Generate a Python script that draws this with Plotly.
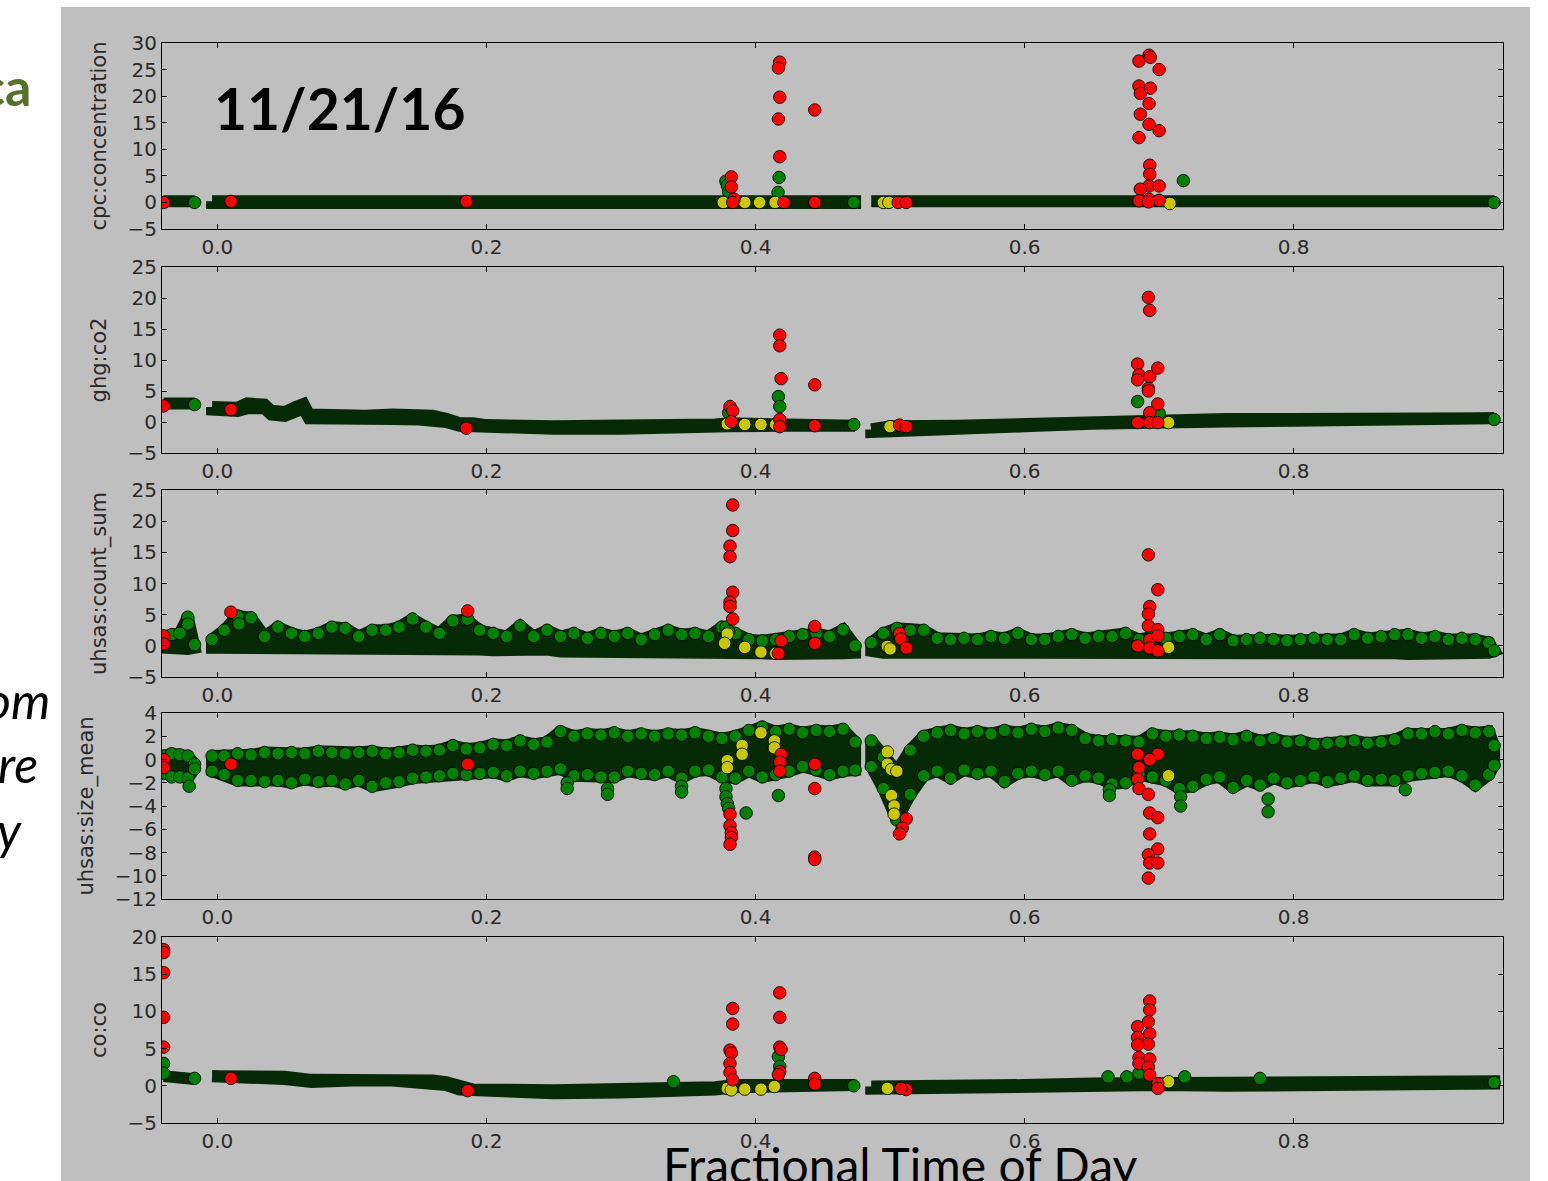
import plotly.graph_objects as go

W, H = 1548, 1181

# ---------------- data ----------------
x_tick_vals = [0.0, 0.2, 0.4, 0.6, 0.8]
x_tick_text = ["0.0", "0.2", "0.4", "0.6", "0.8"]
panel_titles = ["cpc:concentration", "ghg:co2", "uhsas:count_sum", "uhsas:size_mean", "co:co"]
y_ticks_cpc = [-5, 0, 5, 10, 15, 20, 25, 30]
y_ticks_co2 = [-5, 0, 5, 10, 15, 20, 25]
y_ticks_count = [-5, 0, 5, 10, 15, 20, 25]
y_ticks_size = [-12, -10, -8, -6, -4, -2, 0, 2, 4]
y_ticks_co = [-5, 0, 5, 10, 15, 20]

# dense knots shared by the two noisy uhsas panels (None = data gap)
xa = [-0.040, -0.034, -0.028, -0.022, -0.017]
xb = [-0.004, 0.005, 0.015, 0.025, 0.035, 0.045, 0.055, 0.065, 0.075, 0.085,
      0.095, 0.105, 0.115, 0.125, 0.135, 0.145, 0.155, 0.165, 0.175, 0.185,
      0.195, 0.205, 0.215, 0.225, 0.235, 0.245, 0.255, 0.265, 0.275, 0.285,
      0.295, 0.305, 0.315, 0.325, 0.335, 0.345, 0.355, 0.365, 0.375, 0.385,
      0.395, 0.405, 0.415, 0.425, 0.435, 0.445, 0.455, 0.465, 0.474]
xc = [0.486, 0.495, 0.505, 0.515, 0.525, 0.535, 0.545, 0.555, 0.565, 0.575,
      0.585, 0.595, 0.605, 0.615, 0.625, 0.635, 0.645, 0.655, 0.665, 0.675,
      0.685, 0.695, 0.705, 0.715, 0.725, 0.735, 0.745, 0.755, 0.765, 0.775,
      0.785, 0.795, 0.805, 0.815, 0.825, 0.835, 0.845, 0.855, 0.865, 0.875,
      0.885, 0.895, 0.905, 0.915, 0.925, 0.935, 0.945, 0.949]
dense_x = xa + [None] + xb + [None] + xc

# ---- cpc:concentration ----
cpc_band_x = [-0.040, -0.017, None, -0.004, 0.1, 0.2, 0.3, 0.4, 0.474, None, 0.486, 0.6, 0.7, 0.8, 0.949]
cpc_band_lo = [-0.1, -0.1, None, -0.1, -0.1, -0.1, -0.1, -0.1, -0.1, None, -0.1, -0.1, -0.1, -0.1, -0.1]
cpc_band_hi = [0.2, 0.2, None, 0.2, 0.3, 0.2, 0.2, 0.3, 0.2, None, 0.2, 0.2, 0.3, 0.2, 0.2]
cpc_green_x = [-0.017, 0.378, 0.379, 0.380, 0.4175, 0.4167, 0.473, 0.718, 0.949]
cpc_green_y = [0.0, 4.0, 3.2, 2.0, 4.7, 1.9, 0.0, 4.1, 0.0]
cpc_yellow_x = [0.376, 0.392, 0.403, 0.4145, 0.495, 0.499, 0.708]
cpc_yellow_y = [0.0, 0.0, 0.0, 0.0, 0.0, 0.0, -0.2]
cpc_red_x = [-0.040, 0.010, 0.185, 0.382, 0.382, 0.384, 0.383, 0.418, 0.417, 0.418, 0.417,
             0.418, 0.421, 0.444, 0.444, 0.506, 0.512, 0.685, 0.6925, 0.6935, 0.700, 0.685,
             0.686, 0.6935, 0.6925, 0.686, 0.6925, 0.700, 0.685, 0.693, 0.693, 0.6925, 0.700,
             0.686, 0.685, 0.6925, 0.700, 0.692]
cpc_red_y = [0.0, 0.2, 0.2, 4.8, 2.9, 0.6, 0.0, 26.4, 25.3, 19.8, 15.7,
             8.6, 0.0, 17.4, 0.0, 0.0, 0.0, 26.6, 27.7, 27.3, 25.0, 21.9,
             20.5, 21.5, 18.6, 16.6, 14.7, 13.5, 12.2, 7.0, 5.3, 3.1, 3.1,
             2.5, 0.3, 0.6, 0.4, 0.1]

# ---- ghg:co2 ----
co2_band_x = [-0.040, -0.017, None,
              -0.004, 0.015, 0.022, 0.035, 0.040, 0.050, 0.058, 0.064, 0.068, 0.090, 0.110,
              0.130, 0.150, 0.160, 0.170, 0.180, 0.190, 0.200, 0.250, 0.300, 0.350, 0.370,
              0.380, 0.420, 0.474, None,
              0.486, 0.500, 0.550, 0.600, 0.650, 0.700, 0.750, 0.800, 0.850, 0.900, 0.949]
co2_band_lo = [2.6, 2.6, None,
               2.0, 1.8, 2.2, 2.2, 1.2, 1.0, 1.8, 2.2, 0.6, 0.4, 0.5,
               0.5, 0.4, 0.3, 0.0, -0.6, -0.9, -1.0, -1.1, -1.1, -1.0, -0.8,
               -0.7, -0.6, -0.6, None,
               -1.6, -1.2, -1.0, -0.7, -0.3, 0.0, 0.1, 0.2, 0.2, 0.2, 0.2]
co2_band_hi = [3.0, 3.0, None,
               2.4, 2.3, 3.0, 2.8, 1.8, 1.6, 2.4, 2.9, 1.2, 0.9, 1.0,
               1.2, 1.3, 1.0, 0.5, -0.2, -0.2, -0.5, -0.7, -0.7, -0.6, -0.4,
               -0.2, -0.3, -0.3, None,
               -1.2, -0.7, -0.6, -0.3, 0.1, 0.4, 0.5, 0.5, 0.5, 0.6, 0.6]
co2_green_x = [-0.017, 0.380, 0.417, 0.418, 0.473, 0.684, 0.700, 0.949]
co2_green_y = [2.8, 1.5, 4.1, 2.5, -0.4, 3.3, 1.4, 0.4]
co2_yellow_x = [0.379, 0.392, 0.404, 0.415, 0.500, 0.707]
co2_yellow_y = [-0.3, -0.4, -0.4, -0.4, -0.75, -0.1]
co2_red_x = [-0.040, 0.010, 0.185, 0.381, 0.383, 0.382, 0.418, 0.418, 0.419, 0.418, 0.418,
             0.444, 0.444, 0.507, 0.512, 0.692, 0.693, 0.684, 0.685, 0.684, 0.693, 0.699,
             0.692, 0.692, 0.699, 0.693, 0.684, 0.693, 0.699]
co2_red_y = [2.6, 2.0, -1.0, 2.5, 1.8, 0.05, 14.0, 12.3, 7.0, 0.4, -0.75,
             6.0, -0.6, -0.5, -0.75, 20.1, 18.0, 9.35, 7.6, 6.8, 7.3, 8.7,
             5.4, 5.0, 2.9, 1.5, -0.1, -0.1, -0.1]

# ---- uhsas:count_sum ----
count_band_x = dense_x
count_band_lo = ([-0.3, -0.5, -0.5, -0.5, -0.3] + [None] +
                 [-0.3, -0.4, -0.5, -0.4, -0.4, -0.5, -0.4, -0.4, -0.5, -0.4,
                  -0.4, -0.5, -0.4, -0.4, -0.5, -0.4, -0.6, -0.6, -0.7, -0.6,
                  -0.6, -0.7, -0.6, -0.6, -0.7, -0.6, -0.9, -0.9, -1.0, -0.9,
                  -0.9, -1.2, -1.2, -1.1, -1.2, -1.2, -1.3, -1.2, -1.2, -1.1,
                  -1.2, -1.2, -1.3, -1.2, -1.2, -1.2, -1.3, -1.2, -1.1] + [None] +
                 [-0.8, -1.1, -1.2, -1.2, -1.3, -1.2, -1.2, -1.1, -1.2, -1.2,
                  -1.3, -1.2, -1.2, -1.1, -1.2, -1.2, -1.3, -1.2, -1.2, -1.1,
                  -1.2, -1.2, -1.3, -1.2, -1.2, -1.1, -1.2, -1.2, -1.3, -1.2,
                  -1.2, -1.1, -1.2, -1.2, -1.3, -1.2, -1.2, -1.1, -1.2, -1.2,
                  -1.3, -1.2, -1.2, -1.1, -1.2, -1.2, -1.1, -0.8])
count_band_hi = ([1.5, 1.8, 2.0, 4.6, 0.2] + [None] +
                 [1.0, 2.5, 4.8, 4.5, 1.5, 3.0, 2.0, 1.5, 2.0, 3.0,
                  2.8, 1.5, 2.5, 2.5, 3.0, 4.3, 3.0, 2.0, 4.0, 4.2,
                  2.5, 2.0, 1.5, 3.2, 1.5, 2.5, 1.5, 2.0, 1.2, 2.0,
                  1.5, 2.0, 1.0, 1.8, 2.5, 1.8, 2.0, 1.5, 3.0, 2.0,
                  1.0, 0.8, 1.0, 1.5, 1.8, 2.0, 1.5, 2.6, 0.0] + [None] +
                 [0.5, 2.0, 2.8, 2.5, 2.5, 1.2, 1.0, 1.2, 1.0, 1.5,
                  1.2, 2.0, 1.0, 1.0, 1.5, 1.8, 1.2, 1.5, 1.5, 2.0,
                  1.0, 1.5, 1.2, 1.5, 1.8, 1.0, 1.8, 0.8, 1.0, 1.2,
                  1.0, 0.8, 1.0, 1.2, 1.0, 1.0, 1.8, 1.2, 1.5, 1.8,
                  1.8, 1.2, 1.5, 1.0, 1.2, 1.0, 0.5, -0.8])
count_green_x = [-0.022, 0.016, 0.186, 0.378, 0.380]
count_green_y = [3.5, 3.5, 4.3, 3.0, 2.3]
count_yellow_x = [0.379, 0.377, 0.392, 0.404, 0.415, 0.498, 0.500, 0.707]
count_yellow_y = [1.9, 0.4, -0.25, -1.0, -1.2, -0.1, -0.5, -0.25]
count_red_x = [-0.040, -0.040, 0.010, 0.186, 0.383, 0.383, 0.381, 0.381, 0.383, 0.381,
               0.381, 0.383, 0.419, 0.417, 0.444, 0.444, 0.507, 0.508, 0.512, 0.692,
               0.699, 0.693, 0.692, 0.692, 0.699, 0.693, 0.699, 0.684, 0.693, 0.699]
count_red_y = [1.6, 0.3, 5.4, 5.6, 22.6, 18.5, 16.0, 14.3, 8.6, 7.0,
               6.3, 4.3, 0.8, -1.2, 3.1, 0.4, 2.0, 1.1, -0.35, 14.6,
               9.0, 6.3, 5.1, 3.2, 2.6, 1.0, 1.6, 0.0, -0.35, -0.8]

# ---- uhsas:size_mean ----
size_band_x = dense_x
size_band_lo = ([-1.2, -1.5, -1.5, -1.6, -0.8] + [None] +
                [-1.0, -1.3, -1.8, -1.8, -1.9, -1.8, -2.0, -1.7, -1.9, -1.8,
                 -2.1, -1.8, -2.3, -2.0, -1.9, -1.6, -1.5, -1.4, -1.2, -1.3,
                 -1.2, -1.1, -1.4, -1.0, -1.2, -1.0, -0.8, -1.4, -1.3, -1.5,
                 -1.5, -1.0, -1.2, -1.3, -1.0, -1.6, -1.0, -0.9, -1.5, -1.6,
                 -1.0, -1.5, -1.3, -1.0, -0.6, -0.9, -1.3, -1.0, -0.9] + [None] +
                [-0.6, -2.5, -5.2, -3.0, -1.4, -1.0, -1.6, -0.9, -1.2, -1.0,
                 -1.9, -1.2, -1.0, -1.3, -1.0, -1.8, -1.4, -1.6, -2.1, -2.0,
                 -1.3, -1.5, -1.8, -2.5, -2.3, -1.7, -1.5, -2.4, -1.8, -2.2,
                 -1.6, -2.0, -1.8, -1.5, -1.9, -1.6, -1.4, -1.8, -1.7, -1.8,
                 -1.4, -1.2, -1.1, -1.0, -1.4, -2.2, -1.3, -0.5])
size_band_hi = ([0.3, 0.5, 0.4, 0.3, -0.4] + [None] +
                [0.3, 0.3, 0.5, 0.4, 0.6, 0.5, 0.6, 0.5, 0.7, 0.6,
                 0.5, 0.6, 0.7, 0.5, 0.6, 0.8, 0.7, 0.8, 1.2, 0.9,
                 1.0, 1.3, 1.2, 1.6, 1.3, 1.5, 2.4, 2.0, 2.2, 2.1,
                 2.3, 2.0, 2.2, 2.0, 2.2, 2.1, 2.3, 2.0, 1.8, 2.0,
                 2.5, 2.8, 2.4, 2.6, 2.3, 2.5, 2.4, 2.6, 1.5] + [None] +
                [1.6, 0.2, -1.0, 0.8, 2.0, 2.3, 2.5, 2.2, 2.4, 2.2,
                 2.5, 2.3, 2.6, 2.4, 2.7, 2.5, 1.8, 1.6, 1.7, 1.6,
                 1.5, 2.2, 2.0, 2.1, 2.0, 1.8, 1.9, 1.7, 2.0, 1.6,
                 1.8, 1.5, 1.6, 1.3, 1.4, 1.5, 1.6, 1.4, 1.5, 1.7,
                 2.2, 2.2, 2.4, 2.2, 2.5, 2.3, 2.4, 1.2])
size_green_x = [-0.021, 0.260, 0.260, 0.290, 0.290, 0.345, 0.345, 0.378, 0.378, 0.379,
                0.380, 0.393, 0.417, 0.663, 0.663, 0.716, 0.716, 0.781, 0.781, 0.883]
size_green_y = [-2.3, -2.0, -2.5, -2.5, -3.0, -2.3, -2.8, -2.5, -3.2, -3.8,
                -4.2, -4.6, -3.1, -2.6, -3.1, -3.2, -4.0, -3.4, -4.5, -2.6]
size_yellow_x = [0.379, 0.379, 0.390, 0.390, 0.404, 0.414, 0.414, 0.498, 0.498, 0.501,
                 0.505, 0.501, 0.503, 0.503, 0.707]
size_yellow_y = [-0.1, -0.7, 1.2, 0.45, 2.3, 1.6, 1.0, 0.65, -0.4, -0.85,
                 -1.0, -3.1, -4.0, -4.7, -1.4]
size_red_x = [-0.040, -0.040, 0.010, 0.186, 0.381, 0.381, 0.382, 0.382, 0.381, 0.419,
              0.418, 0.418, 0.444, 0.444, 0.444, 0.444, 0.512, 0.509, 0.507, 0.684,
              0.699, 0.693, 0.685, 0.684, 0.685, 0.692, 0.693, 0.699, 0.693, 0.699,
              0.692, 0.693, 0.699, 0.692]
size_red_y = [0.0, -0.7, -0.4, -0.4, -4.7, -5.7, -6.3, -6.7, -7.3, 0.45,
              -0.2, -1.0, -0.4, -2.5, -8.4, -8.6, -5.1, -5.9, -6.4, 0.45,
              0.45, 0.0, -0.7, -1.7, -2.5, -3.0, -4.6, -5.0, -6.4, -7.7,
              -8.2, -8.9, -8.9, -10.2]

# ---- co:co ----
co_band_x = [-0.040, -0.017, None,
             -0.004, 0.030, 0.050, 0.070, 0.090, 0.100, 0.130, 0.150, 0.160, 0.170, 0.180,
             0.190, 0.250, 0.300, 0.340, 0.370, 0.385, 0.474, None,
             0.486, 0.550, 0.600, 0.650, 0.700, 0.750, 0.850, 0.900, 0.949]
co_band_lo = [1.0, 0.9, None,
              1.0, 1.0, 0.9, 0.5, 0.5, 0.7, 0.7, 0.6, 0.3, 0.1, -0.5,
              -0.9, -1.0, -0.9, -0.8, -0.5, -0.2, -0.2, None,
              -0.4, -0.5, -0.2, 0.0, 0.1, 0.0, 0.0, 0.2, 0.3]
co_band_hi = [1.3, 1.2, None,
              1.3, 1.3, 1.2, 0.8, 0.8, 1.0, 1.0, 0.9, 0.7, 0.5, -0.1,
              -0.5, -0.6, -0.6, -0.4, -0.2, 0.1, 0.1, None,
              -0.1, -0.2, 0.1, 0.3, 0.4, 0.3, 0.3, 0.5, 0.6]
co_green_x = [-0.040, -0.040, -0.017, 0.339, 0.417, 0.418, 0.473, 0.662, 0.676, 0.685, 0.719, 0.775, 0.949]
co_green_y = [3.0, 1.7, 1.0, 0.55, 3.9, 2.6, 0.0, 1.2, 1.2, 1.7, 1.2, 1.0, 0.45]
co_yellow_x = [0.379, 0.382, 0.392, 0.404, 0.414, 0.498, 0.707]
co_yellow_y = [-0.35, -0.55, -0.45, -0.45, -0.1, -0.35, 0.55]
co_red_x = [-0.040, -0.040, -0.040, -0.040, -0.040, 0.010, 0.186, 0.383, 0.383, 0.381,
            0.382, 0.381, 0.381, 0.383, 0.418, 0.418, 0.418, 0.419, 0.418, 0.417,
            0.444, 0.444, 0.512, 0.508, 0.693, 0.693, 0.692, 0.684, 0.693, 0.684,
            0.692, 0.684, 0.685, 0.693, 0.685, 0.692, 0.693, 0.699, 0.699]
co_red_y = [18.3, 17.9, 15.2, 9.2, 5.2, 1.0, -0.65, 10.4, 8.3, 4.8,
            4.4, 3.0, 1.8, 0.8, 12.5, 9.2, 5.2, 4.9, 1.9, 1.5,
            1.0, 0.25, -0.5, -0.35, 11.4, 10.2, 8.6, 7.95, 7.0, 6.5,
            5.6, 5.5, 3.8, 3.6, 3.0, 2.5, 1.45, 0.3, -0.35]

# ---------------- styling / layout ----------------
BAND = "#062a06"
GREEN = "#008000"
YELLOW = "#c8c800"
RED = "#ff0000"
EDGE = "rgba(0,0,0,0.85)"
MS = 12.5

panels = [
    dict(bx=cpc_band_x, lo=cpc_band_lo, hi=cpc_band_hi, edge=None,
         gx=cpc_green_x, gy=cpc_green_y, yx=cpc_yellow_x, yy=cpc_yellow_y,
         rx=cpc_red_x, ry=cpc_red_y, ticks=y_ticks_cpc, rng=[-5, 30], top=43, bot=229),
    dict(bx=co2_band_x, lo=co2_band_lo, hi=co2_band_hi, edge=None,
         gx=co2_green_x, gy=co2_green_y, yx=co2_yellow_x, yy=co2_yellow_y,
         rx=co2_red_x, ry=co2_red_y, ticks=y_ticks_co2, rng=[-5, 25], top=267, bot=453),
    dict(bx=count_band_x, lo=count_band_lo, hi=count_band_hi, edge="hi",
         gx=count_green_x, gy=count_green_y, yx=count_yellow_x, yy=count_yellow_y,
         rx=count_red_x, ry=count_red_y, ticks=y_ticks_count, rng=[-5, 25], top=490, bot=677),
    dict(bx=size_band_x, lo=size_band_lo, hi=size_band_hi, edge="both",
         gx=size_green_x, gy=size_green_y, yx=size_yellow_x, yy=size_yellow_y,
         rx=size_red_x, ry=size_red_y, ticks=y_ticks_size, rng=[-12, 4], top=713, bot=899),
    dict(bx=co_band_x, lo=co_band_lo, hi=co_band_hi, edge=None,
         gx=co_green_x, gy=co_green_y, yx=co_yellow_x, yy=co_yellow_y,
         rx=co_red_x, ry=co_red_y, ticks=y_ticks_co, rng=[-5, 20], top=937, bot=1123),
]

X_LEFT, X_RIGHT = 162, 1503
X_RANGE = [-0.0412, 0.9556]


def split_segments(xs, lo, hi):
    segs, cur = [], []
    for a, b, c in zip(xs, lo, hi):
        if a is None:
            if cur:
                segs.append(cur)
            cur = []
        else:
            cur.append((a, b, c))
    if cur:
        segs.append(cur)
    return segs


def minus(v):
    return f"{v}".replace("-", "\u2212")


fig = go.Figure()
layout = {}

for i, p in enumerate(panels, start=1):
    xa_name = "x" if i == 1 else f"x{i}"
    ya_name = "y" if i == 1 else f"y{i}"
    for seg in split_segments(p["bx"], p["lo"], p["hi"]):
        sx = [s[0] for s in seg]
        slo = [s[1] for s in seg]
        shi = [s[2] for s in seg]
        px = sx + sx[::-1] + [sx[0]]
        py = shi + slo[::-1] + [shi[0]]
        fig.add_trace(go.Scatter(x=px, y=py, xaxis=xa_name, yaxis=ya_name, mode="lines",
                                 fill="toself", fillcolor=BAND,
                                 line=dict(color=BAND, width=12),
                                 hoverinfo="skip", showlegend=False))
        if p["edge"] in ("hi", "both"):
            fig.add_trace(go.Scatter(x=sx, y=shi, xaxis=xa_name, yaxis=ya_name, mode="markers",
                                     marker=dict(size=MS, color=GREEN, line=dict(color=EDGE, width=1)),
                                     showlegend=False))
        if p["edge"] == "both":
            fig.add_trace(go.Scatter(x=sx, y=slo, xaxis=xa_name, yaxis=ya_name, mode="markers",
                                     marker=dict(size=MS, color=GREEN, line=dict(color=EDGE, width=1)),
                                     showlegend=False))
    for xs, ys, col in ((p["gx"], p["gy"], GREEN), (p["yx"], p["yy"], YELLOW), (p["rx"], p["ry"], RED)):
        fig.add_trace(go.Scatter(x=xs, y=ys, xaxis=xa_name, yaxis=ya_name, mode="markers",
                                 marker=dict(size=MS, color=col, line=dict(color=EDGE, width=1)),
                                 showlegend=False))

    key_x = "xaxis" if i == 1 else f"xaxis{i}"
    key_y = "yaxis" if i == 1 else f"yaxis{i}"
    layout[key_x] = dict(domain=[X_LEFT / W, X_RIGHT / W], range=X_RANGE, anchor=ya_name,
                         automargin=False,
                         tickvals=x_tick_vals, ticktext=x_tick_text,
                         ticks="inside", ticklen=5, tickwidth=1, tickcolor="black",
                         showline=True, linecolor="black", linewidth=1, mirror="ticks",
                         showgrid=False, zeroline=False,
                         tickfont=dict(family="DejaVu Sans", size=20, color="#2a2a2a"))
    layout[key_y] = dict(domain=[1 - p["bot"] / H, 1 - p["top"] / H], range=p["rng"], anchor=xa_name,
                         automargin=False,
                         tickvals=p["ticks"], ticktext=[minus(v) for v in p["ticks"]],
                         ticks="inside", ticklen=5, tickwidth=1, tickcolor="black",
                         showline=True, linecolor="black", linewidth=1, mirror="ticks",
                         showgrid=False, zeroline=False,
                         tickfont=dict(family="DejaVu Sans", size=20, color="#2a2a2a"),
                         title=dict(text=panel_titles[i - 1], standoff=15,
                                    font=dict(family="DejaVu Sans", size=21, color="#2a2a2a")))

fig.update_layout(
    width=W, height=H, autosize=False,
    margin=dict(l=0, r=0, t=0, b=0, pad=0, autoexpand=False),
    paper_bgcolor="white", plot_bgcolor="white",
    showlegend=False,
    shapes=[dict(type="rect", xref="paper", yref="paper", layer="below",
                 x0=61 / W, x1=1530 / W, y0=0, y1=1 - 7 / H,
                 fillcolor="#bfbfbf", line=dict(width=0))],
    annotations=[
        dict(text="<b>11/21/16</b>", xref="paper", yref="paper", x=212 / W, y=1 - 108 / H,
             xanchor="left", yanchor="middle", showarrow=False,
             font=dict(family="Lato", size=57, color="black")),
        dict(text="Fractional Time of Day", xref="paper", yref="paper", x=900 / W, y=1 - 1134 / H,
             xanchor="center", yanchor="top", showarrow=False,
             font=dict(family="Lato", size=48, color="black")),
        dict(text="<b>ca</b>", xref="paper", yref="paper", x=33 / W, y=1 - 86 / H,
             xanchor="right", yanchor="middle", showarrow=False,
             font=dict(family="Lato", size=52, color="#5a6e2e")),
        dict(text="<i>om</i>", xref="paper", yref="paper", x=52 / W, y=1 - 700 / H,
             xanchor="right", yanchor="middle", showarrow=False,
             font=dict(family="Lato", size=50, color="black")),
        dict(text="<i>re</i>", xref="paper", yref="paper", x=40 / W, y=1 - 764 / H,
             xanchor="right", yanchor="middle", showarrow=False,
             font=dict(family="Lato", size=50, color="black")),
        dict(text="<i>y</i>", xref="paper", yref="paper", x=24 / W, y=1 - 830 / H,
             xanchor="right", yanchor="middle", showarrow=False,
             font=dict(family="Lato", size=50, color="black")),
    ],
    **layout,
)

fig.write_html("out.html", config={"displayModeBar": False},
               post_script="document.body.style.margin='0px';document.body.style.overflow='hidden';")
